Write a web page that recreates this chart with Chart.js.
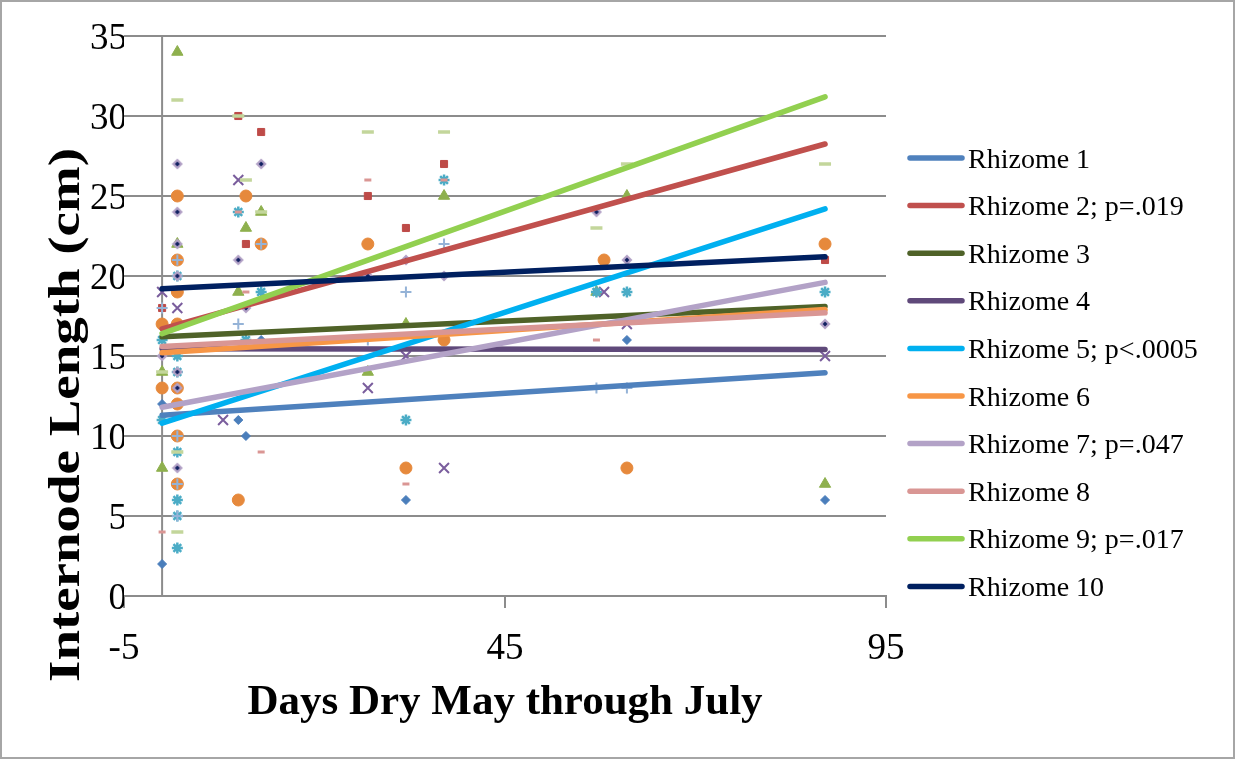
<!DOCTYPE html>
<html>
<head>
<meta charset="utf-8">
<title>Internode Length vs Days Dry</title>
<script src="https://cdn.jsdelivr.net/npm/chart.js"></script>
<style>
  html, body { margin: 0; padding: 0; background: #fff; }
  canvas { display: block; }
</style>
</head>
<body>
<canvas id="internodes" width="1235" height="759"></canvas>
<script>
// legend names of the fitted lines
var rhizomeNames = ['Rhizome 1', 'Rhizome 2; p=.019', 'Rhizome 3', 'Rhizome 4', 'Rhizome 5; p<.0005',
    'Rhizome 6', 'Rhizome 7; p=.047', 'Rhizome 8', 'Rhizome 9; p=.017', 'Rhizome 10'];

// measured points, days dry | internode length (cm)
var r1Days = [0, 0, 10, 11, 13, 32, 61, 87];
var r1Length = [12, 2, 11, 10, 16, 6, 16, 6];
var r2Days = [0, 10, 11, 13, 27, 32, 37, 87];
var r2Length = [18, 30, 22, 29, 25, 23, 27, 21];
var r3Days = [2, 2, 0, 0, 10, 11, 13, 27, 32, 37, 57, 61, 87];
var r3Length = [34, 22, 14, 8, 19, 23, 24, 14, 17, 25, 19, 25, 7];
var r4Days = [0, 2, 8, 10, 27, 32, 37, 58, 61, 87];
var r4Length = [19, 18, 11, 26, 13, 15, 8, 19, 17, 15];
var r5Days = [0, 0, 2, 2, 2, 2, 2, 2, 2, 10, 11, 13, 32, 37, 57, 61, 87];
var r5Length = [16, 11, 20, 15, 14, 9, 6, 5, 3, 24, 16, 19, 11, 26, 19, 19, 19];
var r6Days = [2, 2, 2, 0, 2, 0, 2, 2, 2, 2, 10, 11, 13, 27, 32, 37, 58, 61, 87];
var r6Length = [25, 21, 19, 17, 17, 13, 13, 12, 10, 7, 6, 25, 22, 22, 8, 16, 21, 8, 22];
var r7Days = [0, 2, 2, 2, 2, 10, 13, 27, 32, 37, 57, 61];
var r7Length = [18, 21, 10, 7, 5, 17, 22, 16, 19, 22, 13, 13];
var r8Days = [0, 10, 11, 13, 27, 32, 37, 57];
var r8Length = [4, 24, 19, 9, 26, 7, 26, 16];
var r9Days = [2, 0, 2, 2, 10, 11, 13, 27, 37, 57, 61, 87];
var r9Length = [31, 14, 9, 4, 30, 26, 24, 29, 29, 23, 27, 27];
var r10Days = [2, 2, 2, 2, 0, 2, 2, 2, 10, 11, 13, 27, 32, 37, 57, 61, 87];
var r10Length = [27, 24, 22, 20, 15, 14, 13, 8, 21, 18, 27, 20, 21, 20, 24, 21, 17];

// linear fits: value at the first and at the last day
var trendDays = [0, 87];
var trendStart = [11.3, 16.7, 16.2, 15.45, 10.8, 15.2, 11.8, 15.6, 16.4, 19.2];
var trendEnd = [13.95, 28.25, 18.1, 15.4, 24.2, 17.9, 19.6, 17.7, 31.2, 21.2];

var xTicks = [-5, 45, 95];
var yTicks = [0, 5, 10, 15, 20, 25, 30, 35];

var seriesDays = [r1Days, r2Days, r3Days, r4Days, r5Days, r6Days, r7Days, r8Days, r9Days, r10Days];
var seriesLength = [r1Length, r2Length, r3Length, r4Length, r5Length, r6Length, r7Length, r8Length, r9Length, r10Length];

var lineColors = ['#4F81BD', '#C0504D', '#4F6228', '#5F497A', '#00B0F0',
    '#F79646', '#B3A2C7', '#D99694', '#92D050', '#002060'];
var gridGray = '#8c8c8c';

// lavender diamond with a dark centre (10th marker)
const diamondDot = () => {
    var c = document.createElement('canvas');
    c.width = 12; c.height = 12;
    var g = c.getContext('2d');
    g.fillStyle = '#B3A2C7';
    g.beginPath(); g.moveTo(6, 0.5); g.lineTo(11.5, 6); g.lineTo(6, 11.5); g.lineTo(0.5, 6); g.closePath(); g.fill();
    g.fillStyle = '#102060';
    g.beginPath(); g.moveTo(6, 3.6); g.lineTo(8.4, 6); g.lineTo(6, 8.4); g.lineTo(3.6, 6); g.closePath(); g.fill();
    return c;
}

var markerLooks = [
    { style: 'rectRot', radius: 4.5, color: '#4A7EBB', width: 1 },
    { style: 'rect', radius: 5, color: '#BE4B48', width: 1 },
    { style: 'triangle', radius: 6.5, color: '#8EB04E', width: 1 },
    { style: 'crossRot', radius: 7, color: '#7A5D9D', width: 2 },
    { style: 'star', radius: 5.5, color: '#4BACC6', width: 2.5 },
    { style: 'circle', radius: 6, color: '#E6893C', width: 1 },
    { style: 'cross', radius: 5.5, color: '#95B3D7', width: 2 },
    { style: 'line', radius: 3.5, color: '#DA9694', width: 3 },
    { style: 'line', radius: 6, color: '#C3D69B', width: 3.5 },
    { style: diamondDot(), radius: 6, color: '#B3A2C7', width: 0 }
];

// trend lines on top (low order is drawn last), later rhizomes above earlier ones
var trendSets = rhizomeNames.map((name, i) => ({
    type: 'line',
    label: name,
    data: trendDays.map((d, k) => ({ x: d, y: k == 0 ? trendStart[i] : trendEnd[i] })),
    borderColor: lineColors[i],
    borderWidth: 5.5,
    borderCapStyle: 'round',
    pointRadius: 0,
    fill: false,
    order: 9 - i
}));

var pointSets = seriesDays.map((days, i) => ({
    type: 'scatter',
    label: 'points ' + (i + 1),
    data: days.map((d, k) => ({ x: d, y: seriesLength[i][k] })),
    pointStyle: markerLooks[i].style,
    pointRadius: markerLooks[i].radius,
    backgroundColor: markerLooks[i].color,
    borderColor: markerLooks[i].color,
    pointBorderWidth: markerLooks[i].width,
    order: 19 - i
}));

/*
 * frame, vertical axis at day 0, axis titles and the legend
 */
const decorations = {
    id: 'decorations',
    beforeDatasetsDraw(chart) {
        var ctx = chart.ctx, area = chart.chartArea;
        var x0 = chart.scales.x.getPixelForValue(0);
        ctx.save();
        ctx.strokeStyle = gridGray;
        ctx.lineWidth = 2;
        ctx.beginPath(); ctx.moveTo(x0, area.top); ctx.lineTo(x0, area.bottom); ctx.stroke();
        ctx.restore();
    },
    afterDraw(chart) {
        var ctx = chart.ctx;
        ctx.save();
        ctx.strokeStyle = '#a6a6a6';
        ctx.lineWidth = 2;
        ctx.strokeRect(1, 1, chart.width - 2, chart.height - 2);

        ctx.fillStyle = '#000';
        ctx.textBaseline = 'alphabetic';
        ctx.font = 'bold 43px "Liberation Serif"';
        ctx.textAlign = 'center';
        ctx.fillText('Days Dry May through July', (chart.chartArea.left + chart.chartArea.right) / 2, 714);

        ctx.save();
        ctx.translate(79, 415);
        ctx.rotate(-Math.PI / 2);
        ctx.font = 'bold 45px "Liberation Serif"';
        var w = ctx.measureText('Internode Length (cm)').width;
        ctx.scale(534 / w, 1);
        ctx.fillText('Internode Length (cm)', 0, 0);
        ctx.restore();

        ctx.textAlign = 'left';
        ctx.font = '28px "Liberation Serif"';
        ctx.lineCap = 'round';
        ctx.lineWidth = 5.5;
        rhizomeNames.forEach((name, i) => {
            var y = 158 + i * 47.6;
            ctx.strokeStyle = lineColors[i];
            ctx.beginPath(); ctx.moveTo(910, y); ctx.lineTo(962, y); ctx.stroke();
            ctx.fillText(name, 968, y + 9.5);
        });
        ctx.restore();
    }
};

var tickFont = { family: 'Liberation Serif', size: 37 };

new Chart('internodes', {
    data: { datasets: trendSets.concat(pointSets) },
    options: {
        responsive: false,
        animation: false,
        devicePixelRatio: 1,
        events: [],
        layout: { padding: { left: 0, right: 349, top: 36, bottom: 0 } },
        plugins: {
            legend: { display: false },
            tooltip: { enabled: false }
        },
        scales: {
            x: {
                type: 'linear',
                min: -5,
                max: 95,
                afterBuildTicks: s => { s.ticks = xTicks.map(v => ({ value: v })) },
                afterFit: s => { s.height = 163 },
                border: { color: gridGray, width: 2 },
                grid: { drawOnChartArea: false, color: gridGray, lineWidth: 2, tickLength: 12 },
                ticks: { font: tickFont, color: '#000', padding: 19, maxRotation: 0, autoSkip: false }
            },
            y: {
                type: 'linear',
                min: 0,
                max: 35,
                afterBuildTicks: s => { s.ticks = yTicks.map(v => ({ value: v })) },
                afterFit: s => { s.width = 124 },
                border: { display: false },
                grid: { color: gridGray, lineWidth: 2, drawTicks: false },
                ticks: { font: tickFont, color: '#000', padding: -3, labelOffset: 3 }
            }
        }
    },
    plugins: [decorations]
});
</script>
</body>
</html>
